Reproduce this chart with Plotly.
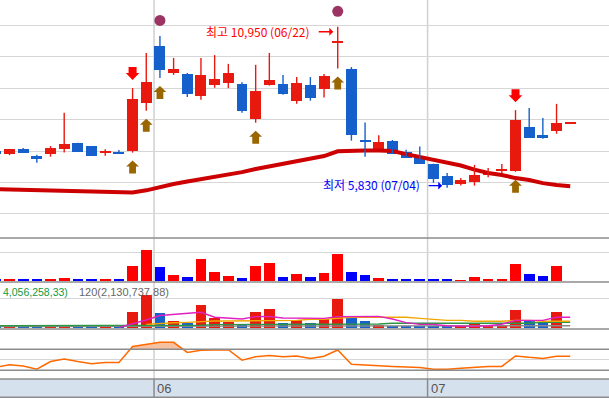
import plotly.graph_objects as go

# ---------------- data ----------------
idx = list(range(-1, 42))  # trading-day index, 0 = first fully visible candle
opens = [7000, 6920, 7060, 6840, 6900, 7070, 7260, 7160, 6950, 6980,
         7000, 8540, 10340, 9490, 9450, 8760, 9110, 9170, 9130, 8030,
         9110, 9130, 8600, 9100, 8980, 10450, 9610, 7350, 7070, 7320,
         6980, 6850, 6600, 6210, 5960, 6030, 6260, 6390, 6380, 7760,
         7510, 7650, 7880]
highs = [7000, 7060, 7100, 6880, 7160, 8220, 7260, 7160, 7060, 7030,
         9000, 10120, 10660, 9960, 9480, 9960, 10050, 9770, 9190, 9740,
         10120, 9420, 9350, 9350, 9450, 10950, 9670, 7910, 7500, 7350,
         7040, 7140, 6600, 6300, 6140, 6560, 6460, 6590, 8300, 8370,
         8050, 8500, 7880]
lows = [6910, 6870, 6950, 6630, 6820, 6950, 6970, 6850, 6850, 6920,
        6950, 8280, 9320, 9420, 8720, 8630, 9010, 9000, 8220, 7900,
        9080, 8790, 8500, 8600, 8700, 9620, 7330, 6820, 7070, 6920,
        6790, 6600, 5990, 5830, 5900, 5900, 6170, 6300, 6340, 7420,
        7390, 7550, 7880]
closes = [6910, 7060, 6950, 6750, 7100, 7220, 6970, 6850, 6980, 6920,
          8650, 9190, 9590, 9610, 8820, 9420, 9290, 9480, 8280, 8910,
          9260, 8820, 9160, 8700, 9390, 10460, 7520, 7320, 7290, 6920,
          6790, 6600, 6120, 5930, 6080, 6240, 6270, 6400, 7990, 7420,
          7420, 7890, 7880]
price_ma = [5790, 5780, 5750, 5730, 5730, 5710, 5700, 5690, 5680, 5680,
            5680, 5750, 5860, 5950, 6030, 6100, 6170, 6250, 6330, 6430,
            6510, 6590, 6670, 6760, 6840, 6990, 7020, 7020, 7020, 7000,
            6900, 6810, 6700, 6620, 6540, 6410, 6300, 6240, 6140, 6080,
            5980, 5920, 5880]
volume = [1.2, 1.2, 1.2, 1.2, 1.2, 3, 1.2, 1.2, 1.2, 1.2,
          15, 31, 14, 6, 4, 22, 9, 5, 3, 15,
          18, 4, 7, 4, 8, 27, 9, 6, 3, 2,
          2, 2, 2, 2, 1, 4, 2, 2, 17, 7,
          5, 15, 0]  # million shares
vol_ma5 = [None, None, None, None, None, None, None, None, None, 0.3,
           3.5, 7.3, 11.6, 12.7, 13.7, 14.6, 9.9, 9.2, 8.3, 10.5,
           10.6, 9.2, 8.9, 8.9, 8.9, 10.5, 10.8, 10.8, 10.8, 8.3,
           4.8, 3.2, 3.2, 1.9, 1.3, 1.3, 1.9, 3.3, 7.0, 7.0,
           7.0, 9.9, 9.9]
vol_ma20 = [None, None, None, None, None, None, None, None, None, None,
            None, 3.2, 4.2, 4.7, 5.1, 6.1, 6.4, 6.4, 6.4, 6.4,
            7.0, 7.0, 7.0, 8.0, 8.0, 8.9, 9.9, 9.9, 9.9, 9.9,
            9.9, 8.9, 8.0, 7.0, 7.0, 6.1, 6.1, 6.1, 7.0, 7.0,
            6.1, 6.1, 6.1]
vol_ma60 = [1.9, 1.9, 1.9, 1.9, 1.9, 1.9, 1.9, 1.9, 1.9, 1.9,
            1.9, 2.3, 2.3, 2.3, 2.3, 2.3, 2.9, 2.9, 2.9, 2.9,
            2.9, 2.9, 2.9, 3.5, 3.5, 3.5, 3.5, 3.5, 3.5, 4.2,
            4.2, 4.2, 4.2, 4.2, 4.2, 4.2, 4.2, 4.2, 4.2, 4.2,
            5.1, 5.1, 5.1]
vol_ma120 = [1.2, 1.2, 1.2, 1.2, 1.2, 1.2, 1.2, 1.2, 1.2, 1.2,
             1.9, 1.9, 1.9, 1.9, 1.9, 1.9, 1.9, 1.9, 1.9, 1.9,
             1.9, 1.9, 1.9, 1.9, 1.9, 1.9, 1.9, 1.9, 1.9, 1.9,
             1.9, 1.9, 1.9, 1.9, 1.9, 1.9, 1.9, 1.9, 1.9, 1.9,
             1.9, 1.9, 1.9]
oscillator = [29, 36, 32, 23, 45, 52, 45, 39, 42, 42,
              88, 95, 100, 100, 71, 77, 77, 79, 49, 59,
              62, 59, 61, 54, 60, 78, 37, 34, 33, 31,
              29, 28, 23, 23, 26, 29, 31, 31, 61, 57,
              54, 60, 60]
osc_upper, osc_mid, osc_lower = 80, 50, 20
up_signal_idx = [9, 10, 11, 18, 24, 37]
down_signal_idx = [9, 37]
circle_idx = [11, 24]
month_start_idx = [11, 31]
month_labels = ["06", "07"]
high_label = "최고 10,950 (06/22)"
low_label = "최저 5,830 (07/04)"
vol_label_a = "4,056,258,33)"
vol_label_b = "120(2,130,737,88)"

# ---------------- styling ----------------
W, H = 609, 398
RED_C, BLUE_C = "#e8190e", "#1660cc"
VOL_RED, VOL_BLUE = "#ff0000", "#0000ff"
MA_C = "#cc0000"
GRID = "#d6d6d6"
DARK = "#8c8c8c"
ARROW_UP_C = "#996600"
ARROW_DN_C = "#ff0000"
CIRCLE_C = "#9b3363"
LAT = "Liberation Sans, Arial, sans-serif"
KR = "Noto Sans CJK KR, Noto Sans, sans-serif"


def py(p):
    return 1 - p / H


pos = {x: k for k, x in enumerate(idx)}
is_up = [c >= o for o, c in zip(opens, closes)]

fig = go.Figure()

# moving average of price (under candles)
fig.add_trace(go.Scatter(x=idx, y=price_ma, mode="lines",
                         line=dict(color=MA_C, width=4), yaxis="y",
                         hoverinfo="skip"))

MIN_BODY = 40
for up, col in ((True, RED_C), (False, BLUE_C)):
    ks = [k for k in range(len(idx)) if is_up[k] == up]
    wx, wy = [], []
    for k in ks:
        wx += [idx[k], idx[k], None]
        wy += [lows[k], highs[k], None]
    fig.add_trace(go.Scatter(x=wx, y=wy, mode="lines",
                             line=dict(color=col, width=1.4), yaxis="y",
                             hoverinfo="skip"))
    bases, hts = [], []
    for k in ks:
        lo, hi = min(opens[k], closes[k]), max(opens[k], closes[k])
        h = max(hi - lo, MIN_BODY)
        bases.append((lo + hi) / 2 - h / 2)
        hts.append(h)
    fig.add_trace(go.Bar(x=[idx[k] for k in ks], y=hts, base=bases,
                         width=0.8, marker=dict(color=col, line=dict(width=0)),
                         yaxis="y", hoverinfo="skip"))

# volume panel
fig.add_trace(go.Bar(x=idx, y=volume, width=0.78,
                     marker=dict(color=[VOL_RED if u else VOL_BLUE for u in is_up],
                                 line=dict(width=0)),
                     yaxis="y2", hoverinfo="skip"))

# volume + moving averages panel
fig.add_trace(go.Bar(x=idx, y=volume, width=0.78,
                     marker=dict(color=[RED_C if u else BLUE_C for u in is_up],
                                 line=dict(width=0)),
                     yaxis="y3", hoverinfo="skip"))
for series, col in ((vol_ma120, "#8a8a8a"), (vol_ma60, "#2e9446"),
                    (vol_ma20, "#f0a800"), (vol_ma5, "#e020c0")):
    fig.add_trace(go.Scatter(x=idx, y=series, mode="lines",
                             line=dict(color=col, width=1.4), yaxis="y3",
                             hoverinfo="skip"))

# oscillator panel: fill above upper threshold
fx, fy = [], []
for k in range(len(idx)):
    if k > 0:
        a, b = oscillator[k - 1], oscillator[k]
        if (a - osc_upper) * (b - osc_upper) < 0:
            t = (osc_upper - a) / (b - a)
            fx.append(idx[k - 1] + t)
            fy.append(osc_upper)
    fx.append(idx[k])
    fy.append(max(oscillator[k], osc_upper))
fig.add_trace(go.Scatter(x=fx, y=[osc_upper] * len(fx), mode="lines",
                         line=dict(width=0, color="rgba(0,0,0,0)"), yaxis="y4",
                         hoverinfo="skip"))
fig.add_trace(go.Scatter(x=fx, y=fy, mode="lines", fill="tonexty",
                         fillcolor="#f6c1a0", line=dict(width=0, color="rgba(0,0,0,0)"),
                         yaxis="y4", hoverinfo="skip"))
fig.add_trace(go.Scatter(x=idx, y=oscillator, mode="lines",
                         line=dict(color="#ff6a00", width=1.5), yaxis="y4",
                         hoverinfo="skip"))

shapes = []
# month separators
for m in month_start_idx:
    xm = m - 0.43
    shapes.append(dict(type="line", xref="x", yref="paper", x0=xm, x1=xm,
                       y0=py(379), y1=1, line=dict(color="#d0d0d0", width=1.5),
                       layer="below"))
# x-axis band
shapes.append(dict(type="rect", xref="paper", yref="paper", x0=0, x1=1,
                   y0=py(397.3), y1=py(379), fillcolor="#d6e1ee",
                   line=dict(width=0), layer="below"))
for m in month_start_idx:
    xm = m - 0.43
    shapes.append(dict(type="line", xref="x", yref="paper", x0=xm, x1=xm,
                       y0=py(397.3), y1=py(379), line=dict(color="#8a8a8a", width=1.5)))
# panel separators
for p in (238, 282, 329, 379, 397.3):
    shapes.append(dict(type="line", xref="paper", yref="paper", x0=0, x1=1,
                       y0=py(p), y1=py(p), line=dict(color=DARK, width=1.6)))
for lv in (osc_upper, osc_lower):
    shapes.append(dict(type="line", xref="paper", yref="y4", x0=0, x1=1,
                       y0=lv, y1=lv, line=dict(color=DARK, width=1.6)))
# signal arrows and circles (pixel-sized, anchored to candles)
UP_PATH = "M-3.4,-21 L3.4,-21 L3.4,-14 L6.4,-14 L0,-8 L-6.4,-14 L-3.4,-14 Z"
DN_PATH = "M-4,21 L4,21 L4,15 L6.8,15 L0,8 L-6.8,15 L-4,15 Z"
for i in up_signal_idx:
    shapes.append(dict(type="path", xref="x", yref="y", xsizemode="pixel",
                       ysizemode="pixel", xanchor=i, yanchor=lows[pos[i]],
                       path=UP_PATH, fillcolor=ARROW_UP_C, line=dict(width=0)))
for i in down_signal_idx:
    shapes.append(dict(type="path", xref="x", yref="y", xsizemode="pixel",
                       ysizemode="pixel", xanchor=i, yanchor=highs[pos[i]],
                       path=DN_PATH, fillcolor=ARROW_DN_C, line=dict(width=0)))
for i in circle_idx:
    shapes.append(dict(type="circle", xref="x", yref="y", xsizemode="pixel",
                       ysizemode="pixel", xanchor=i, yanchor=highs[pos[i]],
                       x0=-5.5, x1=5.5, y0=10, y1=21, fillcolor=CIRCLE_C,
                       line=dict(width=0)))

annotations = []
hk = max(range(len(highs)), key=lambda k: highs[k])
lk = min(range(len(lows)), key=lambda k: lows[k])
annotations.append(dict(x=idx[hk], y=highs[hk], xref="x", yref="y", text=high_label,
                        showarrow=False, xanchor="right", yanchor="middle",
                        xshift=-26, yshift=-5,
                        font=dict(family=KR, size=12, color="#ff0000")))
annotations.append(dict(x=idx[hk], y=highs[hk], xref="x", yref="y", text="",
                        showarrow=True, ax=-16, ay=0, arrowhead=1, arrowsize=1,
                        arrowwidth=1.3, arrowcolor="#ff0000", xshift=-4.5, yshift=-5))
annotations.append(dict(x=idx[lk], y=lows[lk], xref="x", yref="y", text=low_label,
                        showarrow=False, xanchor="right", yanchor="middle",
                        xshift=-25, yshift=3,
                        font=dict(family=KR, size=12, color="#0000ff")))
annotations.append(dict(x=idx[lk], y=lows[lk], xref="x", yref="y", text="",
                        showarrow=True, ax=-15, ay=0, arrowhead=1, arrowsize=1,
                        arrowwidth=1.3, arrowcolor="#0000ff", xshift=-5, yshift=2.2))
annotations.append(dict(x=1 / W, y=py(291.5), xref="paper", yref="paper",
                        text=vol_label_a, showarrow=False, xanchor="left",
                        yanchor="middle", font=dict(family=LAT, size=10.5, color="#129a3e")))
annotations.append(dict(x=77 / W, y=py(291.5), xref="paper", yref="paper",
                        text=vol_label_b, showarrow=False, xanchor="left",
                        yanchor="middle", font=dict(family=LAT, size=11, color="#666666")))
for m, lab in zip(month_start_idx, month_labels):
    annotations.append(dict(x=m - 0.43, y=py(388), xref="x", yref="paper", text=lab,
                            showarrow=False, xanchor="left", yanchor="middle",
                            xshift=1, font=dict(family=LAT, size=13, color="#555555")))

common = dict(showticklabels=False, zeroline=False, showline=False, ticks="",
              fixedrange=True, gridcolor=GRID, gridwidth=1.3)
fig.update_layout(
    width=W, height=H, margin=dict(l=0, r=0, t=0, b=0, pad=0),
    paper_bgcolor="white", plot_bgcolor="white", showlegend=False,
    barmode="overlay", bargap=0,
    xaxis=dict(range=[-0.6946, 43.836], showgrid=False, zeroline=False,
               showticklabels=False, ticks="", showline=False, fixedrange=True),
    yaxis=dict(domain=[py(238), 1], range=[4235, 11801],
               tickvals=list(range(5000, 11001, 1000)), **common),
    yaxis2=dict(domain=[py(282), py(238)], range=[-1, 43], tickvals=[29], **common),
    yaxis3=dict(domain=[py(329), py(282)], range=[-1.235, 43.4], tickvals=[27.7], **common),
    yaxis4=dict(domain=[py(379), py(329)], range=[-4.85, 138.0], tickvals=[osc_mid], **common),
    shapes=shapes, annotations=annotations,
)

fig.write_html("out.html", config={"displayModeBar": False},
               post_script="document.body.style.margin='0';document.body.style.overflow='hidden';")
